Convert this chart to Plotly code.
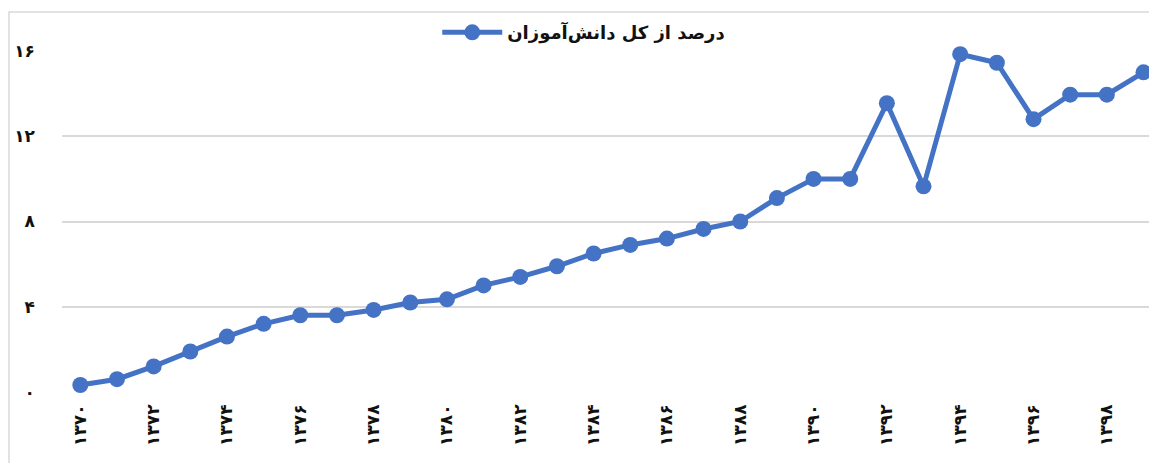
import plotly.graph_objects as go

years = ["۱۳۷۰","۱۳۷۱","۱۳۷۲","۱۳۷۳","۱۳۷۴","۱۳۷۵","۱۳۷۶","۱۳۷۷","۱۳۷۸","۱۳۷۹",
         "۱۳۸۰","۱۳۸۱","۱۳۸۲","۱۳۸۳","۱۳۸۴","۱۳۸۵","۱۳۸۶","۱۳۸۷","۱۳۸۸","۱۳۸۹",
         "۱۳۹۰","۱۳۹۱","۱۳۹۲","۱۳۹۳","۱۳۹۴","۱۳۹۵","۱۳۹۶","۱۳۹۷","۱۳۹۸","۱۳۹۹"]
values = [0.33, 0.6, 1.2, 1.9, 2.6, 3.2, 3.6, 3.6, 3.85, 4.2,
          4.35, 5.0, 5.4, 5.9, 6.5, 6.9, 7.2, 7.65, 8.0, 9.1,
          10.0, 10.0, 13.55, 9.65, 15.85, 15.45, 12.8, 13.95, 13.95, 15.0]
series_name = "درصد از کل دانش‌آموزان"
y_tickvals = [0, 4, 8, 12, 16]
y_ticktext = ["۰", "۴", "۸", "۱۲", "۱۶"]

x_idx = list(range(len(years)))
color = "#4472C4"
font_fam = "DejaVu Sans"

fig = go.Figure()
fig.add_trace(go.Scatter(
    x=x_idx, y=values, mode="lines+markers", name=series_name,
    line=dict(color=color, width=5),
    marker=dict(color=color, size=16),
    cliponaxis=False,
))

fig.update_layout(
    width=1149, height=463,
    margin=dict(l=62, r=0, t=51, b=71),
    plot_bgcolor="white", paper_bgcolor="white",
    showlegend=True,
    legend=dict(orientation="h", x=0.48, xanchor="center", y=1.054, yanchor="middle",
                font=dict(family=font_fam, size=18, color="#111111", weight="bold"),
                bgcolor="rgba(0,0,0,0)", itemwidth=60),
    xaxis=dict(
        range=[-0.5, 29.15],
        tickmode="array", tickvals=x_idx[::2], ticktext=years[::2],
        tickangle=-90, showgrid=False, zeroline=False, showline=False,
        tickfont=dict(family=font_fam, size=17, color="#111111", weight="bold"),
        ticklabelstandoff=8,
    ),
    yaxis=dict(
        range=[0, 16], tickmode="array", tickvals=y_tickvals, ticktext=y_ticktext,
        showgrid=True, gridcolor="#D9D9D9", gridwidth=2, zeroline=False,
        showline=False,
        tickfont=dict(family=font_fam, size=17, color="#111111", weight="bold"),
        ticklabelstandoff=26,
    ),
    shapes=[dict(type="rect", xref="paper", yref="paper",
                 x0=(9 - 62) / 1087, x1=1.2, y0=-0.5, y1=(392 - 12) / 341,
                 line=dict(color="#D9D9D9", width=1.5), layer="below")],
)

fig.write_html("out.html", config={"displayModeBar": False},
               post_script="document.body.style.margin='0';document.body.style.overflow='hidden';")
